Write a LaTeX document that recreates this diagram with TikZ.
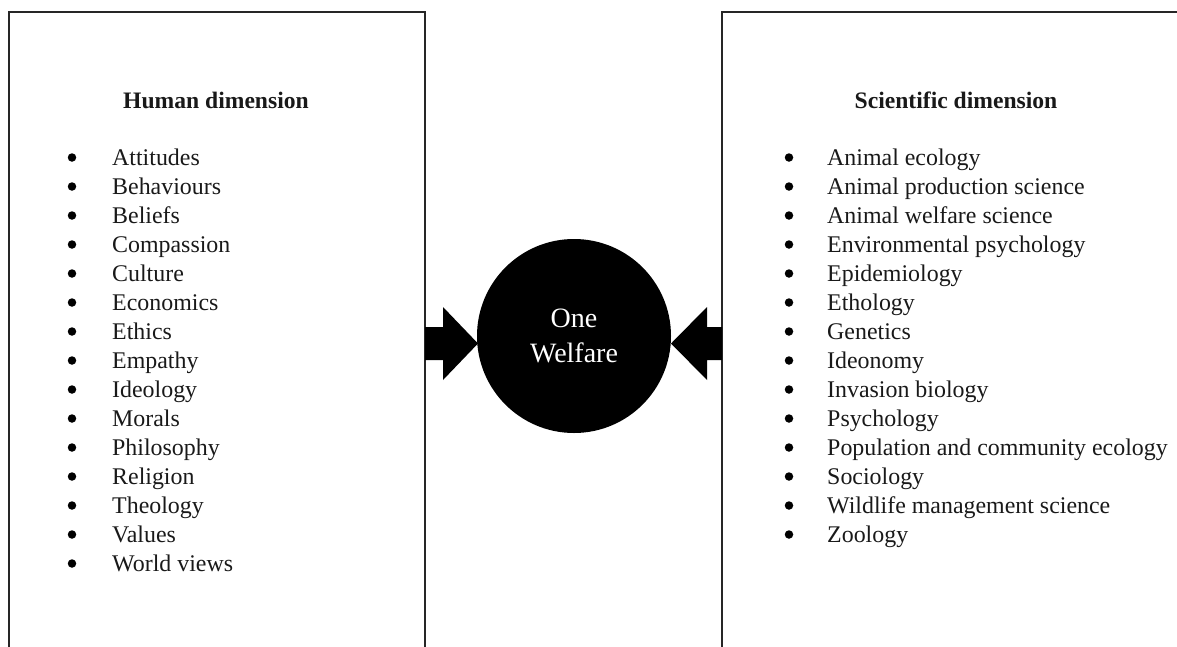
\documentclass[tikz,border=0pt]{standalone}
\usepackage{fontspec}
\setmainfont{Liberation Serif}
\begin{document}
\begin{tikzpicture}[x=1pt,y=-1pt,
  panel/.style={draw=black!85,line width=1.4pt},
  head/.style={anchor=base,font=\fontsize{23.6}{29}\selectfont\bfseries,text=black!90,inner sep=0pt},
  item/.style={anchor=base west,font=\fontsize{23.9}{29}\selectfont,text=black!90,inner sep=0pt},
  bul/.style={circle,fill=black,inner sep=0pt,minimum size=8.5pt},
  blockarrow/.style={fill=black,draw=none}]
\useasboundingbox (0,0) rectangle (1177,646);
\clip (0,0) rectangle (1177,646);
% panels
\draw[panel] (9,670) -- (9,12) -- (425,12) -- (425,670);
\draw[panel] (722,670) -- (722,12) -- (1190,12);
\coordinate (lpanel) at (425,343);
\coordinate (rpanel) at (722,343);
% headings
\node[head] (hh) at (216,108) {Human dimension};
\node[head] (sh) at (956,108) {Scientific dimension};
% left list
\foreach \t [count=\i from 0] in {Attitudes,Behaviours,Beliefs,Compassion,Culture,Economics,Ethics,Empathy,Ideology,Morals,Philosophy,Religion,Theology,Values,World views}{
  \node[bul] (lb\i) at (72,{157.5+29*\i}) {};
  \node[item] (li\i) at (112,{165+29*\i}) {\t};
}
% right list
\foreach \t [count=\i from 0] in {Animal ecology,Animal production science,Animal welfare science,Environmental psychology,Epidemiology,Ethology,Genetics,Ideonomy,Invasion biology,Psychology,Population and community ecology,Sociology,Wildlife management science,Zoology}{
  \node[bul] (rb\i) at (789,{157.5+29*\i}) {};
  \node[item] (ri\i) at (827,{165+29*\i}) {\t};
}
% centre circle
\node[circle,fill=black,minimum size=194pt,inner sep=0pt,text=white,align=center,
  font=\fontsize{28}{35}\selectfont] (ow) at (574,336) {One\\Welfare};
% block arrows
\coordinate (ltip) at (478,343.5);
\coordinate (rtip) at (671,343.5);
\fill[blockarrow] (lpanel |- 0,327) -- (443,327) -- (443,307) -- (ltip) -- (443,380) -- (443,360) -- (lpanel |- 0,360) -- cycle;
\fill[blockarrow] (rpanel |- 0,327) -- (707,327) -- (707,307) -- (rtip) -- (707,380) -- (707,360) -- (rpanel |- 0,360) -- cycle;
\end{tikzpicture}
\end{document}
